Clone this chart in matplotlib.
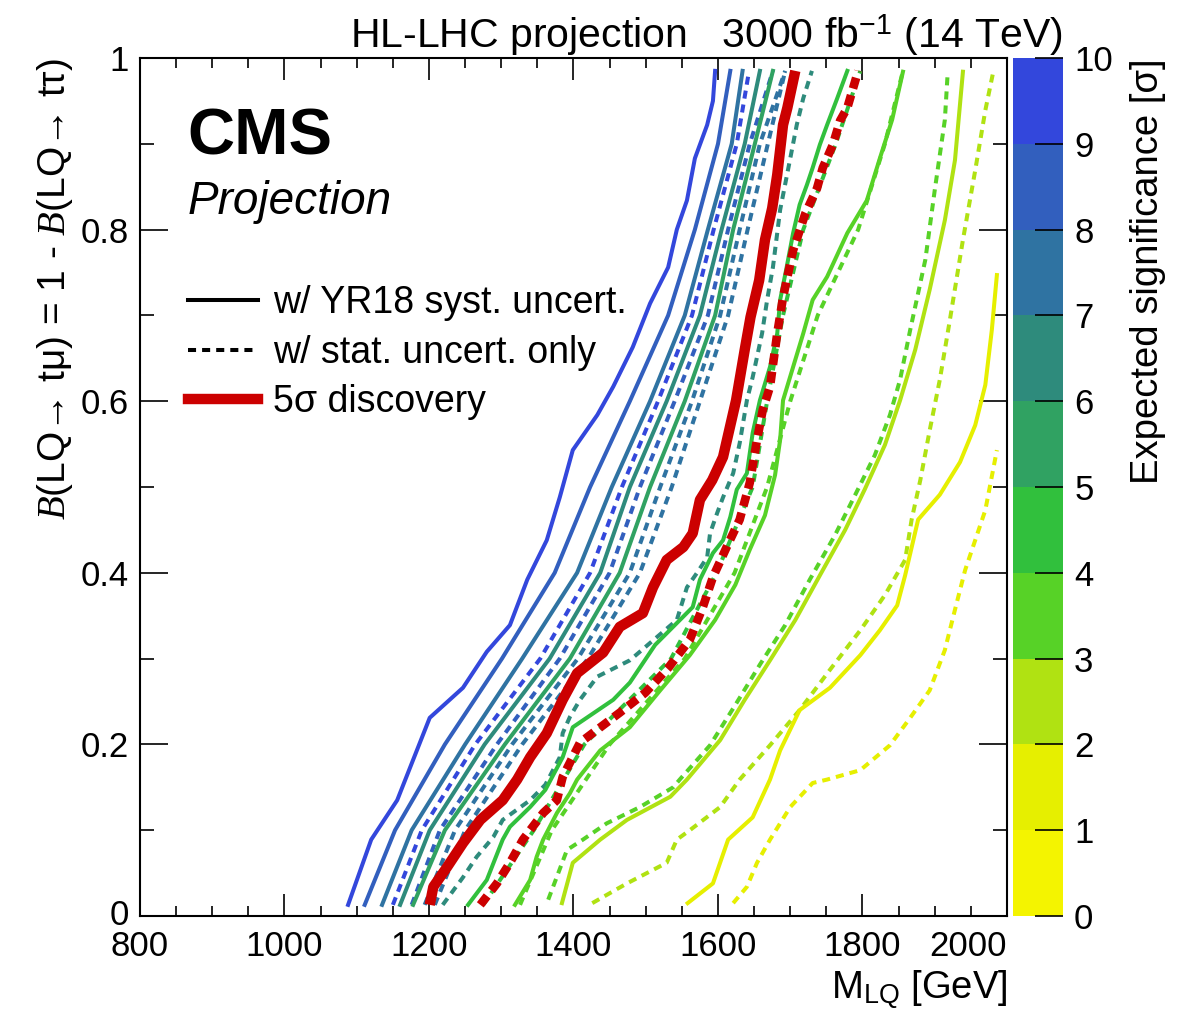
import matplotlib
matplotlib.use('Agg')
import matplotlib.pyplot as plt
import matplotlib.transforms as mtransforms
from matplotlib.colors import ListedColormap, BoundaryNorm
from matplotlib.cm import ScalarMappable
from matplotlib.lines import Line2D
from matplotlib.ticker import MultipleLocator

plt.rcParams['font.family'] = ['Liberation Sans', 'DejaVu Sans']
plt.rcParams['mathtext.fontset'] = 'custom'
plt.rcParams['mathtext.rm'] = 'Liberation Sans'
plt.rcParams['mathtext.it'] = 'Liberation Serif:italic'
plt.rcParams['mathtext.bf'] = 'Liberation Sans:bold'

# common B(LQ -> t mu) grid for the contours read on a coarse grid
br = [0.013, 0.1, 0.2, 0.3, 0.4, 0.5, 0.6, 0.7, 0.8, 0.9, 0.985]

# --- contours with YR18 systematics, M_LQ in GeV ---
syst_10_b = [0.013, 0.089, 0.135, 0.231, 0.266, 0.308, 0.339, 0.392, 0.438, 0.488, 0.543,
             0.584, 0.617, 0.663, 0.714, 0.756, 0.800, 0.834, 0.883, 0.922, 0.950, 0.985]
syst_10 = [1088, 1120, 1156, 1201, 1247, 1280, 1312, 1336, 1363, 1381, 1399,
           1433, 1455, 1482, 1506, 1531, 1543, 1557, 1568, 1585, 1593, 1596]
syst_9 = [1111, 1153, 1222, 1301, 1374, 1423, 1478, 1531, 1568, 1600, 1617]
syst_8 = [1135, 1176, 1250, 1329, 1405, 1453, 1506, 1554, 1586, 1619, 1634]
syst_7 = [1160, 1201, 1277, 1367, 1437, 1478, 1529, 1575, 1605, 1637, 1658]
syst_6 = [1178, 1222, 1305, 1395, 1464, 1506, 1554, 1596, 1621, 1651, 1676]
syst_4_b = [0.013, 0.042, 0.089, 0.104, 0.127, 0.147, 0.185, 0.220, 0.252, 0.272, 0.316,
            0.360, 0.392, 0.423, 0.438, 0.465, 0.497, 0.516, 0.563, 0.601, 0.640, 0.679,
            0.718, 0.756, 0.796, 0.829, 0.852, 0.872, 0.899, 0.922, 0.953, 0.985]
syst_4 = [1254, 1280, 1302, 1312, 1340, 1361, 1385, 1399, 1455, 1478, 1513,
          1565, 1575, 1593, 1607, 1617, 1626, 1640, 1648, 1658, 1672, 1682,
          1686, 1695, 1704, 1713, 1723, 1731, 1741, 1751, 1765, 1779]
syst_3_b = [0.013, 0.042, 0.069, 0.089, 0.120, 0.143, 0.159, 0.193, 0.220, 0.263, 0.304,
            0.345, 0.386, 0.427, 0.467, 0.514, 0.555, 0.601, 0.640, 0.679, 0.718, 0.745,
            0.796, 0.834, 0.883, 0.928, 0.984]
syst_3 = [1319, 1340, 1349, 1358, 1377, 1395, 1405, 1437, 1478, 1520, 1561,
          1596, 1624, 1644, 1665, 1679, 1686, 1690, 1704, 1718, 1731, 1751,
          1779, 1806, 1824, 1841, 1856]
syst_2_b = [0.015, 0.062, 0.089, 0.112, 0.139, 0.159, 0.205, 0.252, 0.298, 0.345, 0.397,
            0.450, 0.497, 0.549, 0.601, 0.660, 0.730, 0.811, 0.881, 0.984]
syst_2 = [1384, 1399, 1437, 1474, 1534, 1557, 1603, 1637, 1672, 1707, 1741,
          1776, 1803, 1831, 1852, 1873, 1893, 1914, 1928, 1939]
syst_1_b = [0.015, 0.038, 0.089, 0.115, 0.159, 0.193, 0.240, 0.266, 0.304, 0.333, 0.362,
            0.397, 0.462, 0.491, 0.529, 0.572, 0.619, 0.683, 0.747]
syst_1 = [1558, 1593, 1614, 1648, 1672, 1686, 1713, 1755, 1797, 1824, 1848,
          1859, 1877, 1907, 1935, 1956, 1970, 1979, 1986]

# --- contours with statistical uncertainties only ---
stat_10 = [1150, 1190, 1264, 1354, 1423, 1467, 1517, 1564, 1594, 1626, 1643]
stat_9 = [1176, 1215, 1294, 1381, 1450, 1492, 1540, 1586, 1614, 1644, 1676]
stat_8 = [1194, 1236, 1315, 1406, 1478, 1520, 1564, 1603, 1630, 1658, 1693]
stat_7 = [1208, 1250, 1329, 1420, 1492, 1536, 1575, 1614, 1641, 1669, 1693]
stat_6_b = [0.013, 0.045, 0.069, 0.092, 0.112, 0.135, 0.153, 0.185, 0.213, 0.232, 0.252,
            0.279, 0.298, 0.345, 0.383, 0.400, 0.418, 0.446, 0.470, 0.488, 0.516, 0.551,
            0.601, 0.628, 0.679, 0.718, 0.756, 0.823, 0.883, 0.922, 0.953, 0.985]
stat_6 = [1219, 1247, 1266, 1289, 1302, 1340, 1361, 1381, 1385, 1395, 1409,
          1433, 1478, 1543, 1557, 1571, 1585, 1589, 1599, 1607, 1621, 1630,
          1640, 1648, 1661, 1668, 1676, 1686, 1700, 1709, 1718, 1730]
stat_5 = [1275, 1345, 1415, 1535, 1598, 1648, 1668, 1690, 1718, 1763, 1797]
stat_4 = [1326, 1370, 1450, 1554, 1623, 1668, 1700, 1738, 1794, 1831, 1856]
stat_3_b = [0.019, 0.077, 0.089, 0.108, 0.127, 0.150, 0.159, 0.199, 0.246, 0.293, 0.339,
            0.392, 0.444, 0.491, 0.537, 0.584, 0.625, 0.683, 0.765, 0.846, 0.928, 0.984]
stat_3 = [1365, 1391, 1413, 1446, 1492, 1538, 1547, 1589, 1624, 1658, 1693,
          1727, 1762, 1790, 1817, 1838, 1852, 1866, 1887, 1900, 1914, 1918]
stat_2_b = [0.015, 0.038, 0.062, 0.089, 0.100, 0.127, 0.159, 0.199, 0.240, 0.287, 0.333,
            0.374, 0.415, 0.462, 0.508, 0.566, 0.625, 0.695, 0.788, 0.869, 0.939, 0.984]
stat_2 = [1426, 1474, 1529, 1543, 1561, 1603, 1630, 1672, 1713, 1755, 1797,
          1831, 1859, 1868, 1880, 1893, 1907, 1921, 1939, 1956, 1970, 1981]
stat_1_b = [0.015, 0.034, 0.062, 0.089, 0.127, 0.155, 0.159, 0.170, 0.199, 0.231, 0.263,
            0.310, 0.357, 0.403, 0.473, 0.543]
stat_1 = [1621, 1640, 1654, 1672, 1700, 1731, 1751, 1797, 1838, 1866, 1893,
          1914, 1928, 1942, 1970, 1986]

# --- 5 sigma discovery contours ---
disc_syst_b = [0.013, 0.034, 0.057, 0.085, 0.112, 0.135, 0.159, 0.185, 0.213, 0.252, 0.283,
               0.307, 0.337, 0.353, 0.383, 0.415, 0.430, 0.446, 0.485, 0.508, 0.535, 0.601,
               0.660, 0.698, 0.741, 0.788, 0.825, 0.864, 0.922, 0.942, 0.985]
disc_syst = [1201, 1206, 1225, 1247, 1271, 1302, 1322, 1340, 1363, 1385, 1405,
             1441, 1464, 1496, 1510, 1529, 1552, 1565, 1575, 1592, 1607, 1625,
             1637, 1645, 1657, 1665, 1675, 1682, 1690, 1696, 1707]
disc_stat_b = [0.013, 0.038, 0.062, 0.089, 0.120, 0.135, 0.162, 0.202, 0.237, 0.260, 0.289,
               0.322, 0.360, 0.395, 0.430, 0.462, 0.505, 0.555, 0.590, 0.617, 0.679, 0.721,
               0.776, 0.819, 0.848, 0.872, 0.899, 0.927, 0.942, 0.985]
disc_stat = [1271, 1294, 1312, 1330, 1358, 1377, 1385, 1409, 1464, 1499, 1531,
             1561, 1579, 1593, 1612, 1630, 1644, 1654, 1662, 1672, 1682, 1690,
             1704, 1721, 1737, 1745, 1759, 1769, 1779, 1794]

# palette of the significance colour scale, bins 0-1 ... 9-10
palette = ['#f4f400', '#e6ef00', '#b0e212', '#57d227', '#31c03d',
           '#30a262', '#2e8b7c', '#2f73a2', '#325fbe', '#3347dc']
sig_edges = list(range(11))


def main():
    fig = plt.figure(figsize=(11.82, 10.15), dpi=100)
    ax = fig.add_axes([140 / 1182, 99 / 1015, 867 / 1182, 858 / 1015])
    cax = fig.add_axes([1013 / 1182, 99 / 1015, 50 / 1182, 858 / 1015])

    lw = 2.9
    dash = (0, (2.0, 1.5))
    stat = [(stat_10, br, 9), (stat_9, br, 8), (stat_8, br, 7), (stat_7, br, 7),
            (stat_6, stat_6_b, 6), (stat_5, br, 4), (stat_4, br, 3),
            (stat_3, stat_3_b, 3), (stat_2, stat_2_b, 2), (stat_1, stat_1_b, 1)]
    syst = [(syst_10, syst_10_b, 9), (syst_9, br, 8), (syst_8, br, 7), (syst_7, br, 6),
            (syst_6, br, 5), (syst_4, syst_4_b, 4), (syst_3, syst_3_b, 3),
            (syst_2, syst_2_b, 2), (syst_1, syst_1_b, 1)]
    for m, b, c in stat:
        ax.plot(m, b, color=palette[c], lw=lw, linestyle=dash)
    for m, b, c in syst:
        ax.plot(m, b, color=palette[c], lw=lw)

    ax.plot(disc_stat, disc_stat_b, color='#cc0000', lw=6.2, linestyle=(0, (1.3, 0.8)))
    ax.plot(disc_syst, disc_syst_b, color='#cc0000', lw=7.5, solid_capstyle='butt')

    ax.set_xlim(800, 2000)
    ax.set_ylim(0, 1)
    ax.set_xticks(list(range(800, 2001, 200)))
    ax.xaxis.set_minor_locator(MultipleLocator(50))
    ax.yaxis.set_minor_locator(MultipleLocator(0.1))
    ax.set_yticks([0, 0.2, 0.4, 0.6, 0.8, 1.0])
    ax.set_yticklabels(['0', '0.2', '0.4', '0.6', '0.8', '1'])
    ax.tick_params(axis='both', which='both', direction='in', top=True, right=True,
                   labelsize=25, width=1.2)
    ax.tick_params(axis='x', which='major', length=16, pad=10)
    ax.tick_params(axis='x', which='minor', length=7)
    ax.tick_params(axis='y', which='major', length=20, pad=8)
    ax.tick_params(axis='y', which='minor', length=10)
    xlabels = ax.get_xticklabels()
    xlabels[-1].set_horizontalalignment('right')
    ylabels = ax.get_yticklabels()
    ylabels[0].set_transform(ylabels[0].get_transform() +
                             mtransforms.ScaledTranslation(0, 0.04, fig.dpi_scale_trans))
    for s in ax.spines.values():
        s.set_linewidth(1.5)

    ax.set_xlabel(r'M$_{\rm LQ}$ [GeV]', fontsize=27.5, loc='right', labelpad=4)
    fig.text(55 / 1182, 1 - 58 / 1015,
             r'$\mathit{B}$(LQ→ tμ) = 1 - $\mathit{B}$(LQ→ tτ)',
             rotation=90, ha='center', va='top', fontsize=28)

    ax.text(0.055, 0.942, 'CMS', transform=ax.transAxes, fontsize=47,
            fontweight='bold', va='top')
    ax.text(0.055, 0.858, 'Projection', transform=ax.transAxes, fontsize=33,
            style='italic', va='top')
    fig.text(1063 / 1182, 1 - 48 / 1015,
             r'HL-LHC projection   3000 fb$^{-1}$ (14 TeV)',
             ha='right', va='baseline', fontsize=29.5)

    handles = [Line2D([], [], color='black', lw=lw),
               Line2D([], [], color='black', lw=lw, linestyle=dash),
               Line2D([], [], color='#cc0000', lw=7.5)]
    labels = ['w/ YR18 syst. uncert.', 'w/ stat. uncert. only', '5σ discovery']
    ax.legend(handles, labels, loc='upper left', bbox_to_anchor=(0.055, 0.735),
              frameon=False, fontsize=27, handlelength=1.87, handletextpad=0.4,
              labelspacing=0.36, borderpad=0, borderaxespad=0)

    cmap = ListedColormap(palette)
    norm = BoundaryNorm(sig_edges, cmap.N)
    cb = fig.colorbar(ScalarMappable(norm=norm, cmap=cmap), cax=cax, ticks=sig_edges)
    cb.outline.set_visible(False)
    cax.tick_params(direction='in', length=20, width=1.2, labelsize=25, pad=8)
    cax.set_ylabel('Expected significance [σ]', fontsize=27.5, loc='top', labelpad=12)

    fig.savefig('out.png', dpi=100)


if __name__ == '__main__':
    main()
